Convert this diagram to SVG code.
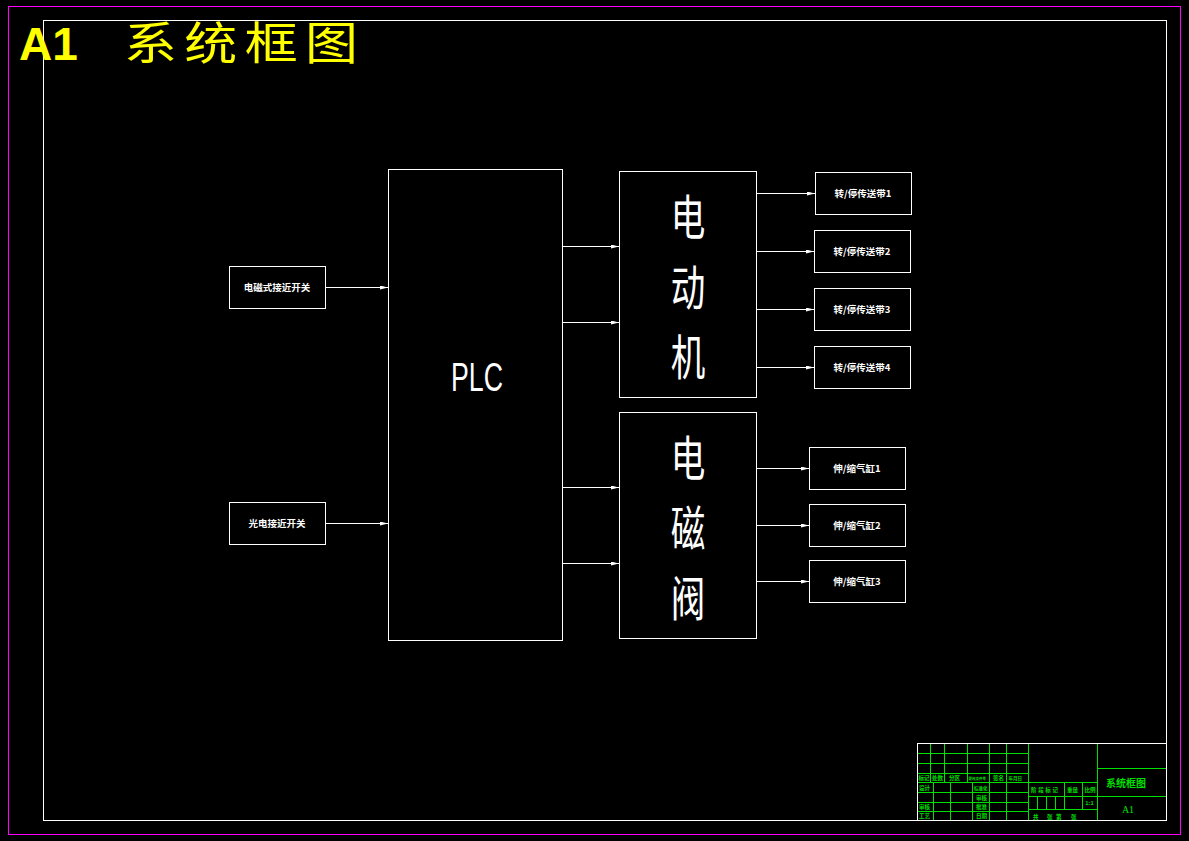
<svg xmlns="http://www.w3.org/2000/svg" width="1189" height="841" viewBox="0 0 1189 841">
<defs>
<marker id="ah" viewBox="0 0 8 4" refX="8" refY="2" markerWidth="8" markerHeight="4" markerUnits="userSpaceOnUse" orient="auto">
<path d="M0,0 L8,2 L0,4 Z" fill="#ffffff"/>
</marker>
<style>
.box{fill:none;stroke:#ffffff;stroke-width:1}
.con{stroke:#ffffff;stroke-width:1;fill:none;marker-end:url(#ah)}
.lbl{fill:#ffffff;font-family:"Noto Sans CJK SC","Liberation Sans",sans-serif;font-size:9.5px;font-weight:bold;text-anchor:middle}
.big{fill:#ffffff;font-family:"Noto Sans CJK SC",sans-serif;font-size:48px;text-anchor:middle}
.g{stroke:#00e000;stroke-width:1;fill:none}
.gt{fill:#00e000;font-family:"Noto Sans CJK SC",sans-serif;font-size:5.5px;font-weight:bold}
.gs{fill:#00e000;font-family:"Noto Sans CJK SC",sans-serif;font-size:3.5px;font-weight:bold}
.gm{fill:#00e000;font-family:"Noto Sans CJK SC",sans-serif;font-size:4.5px;font-weight:bold}
.gtm{fill:#00e000;font-family:"Noto Sans CJK SC",sans-serif;font-size:5.5px;font-weight:bold;text-anchor:middle}
</style>
</defs>
<rect x="0" y="0" width="1189" height="841" fill="#000000"/>
<rect x="8.5" y="6.5" width="1172" height="828" fill="none" stroke="#ff00ff" stroke-width="1"/>
<rect x="43.5" y="20.5" width="1123" height="800" fill="none" stroke="#ffffff" stroke-width="1"/>
<text x="19" y="60" fill="#ffff00" font-family="Liberation Sans,sans-serif" font-weight="bold" font-size="46">A1</text>
<g transform="translate(124,60) scale(1,0.85)">
<text x="0" y="0" fill="#ffff00" font-family="Noto Sans CJK SC,sans-serif" font-size="53" textLength="234" lengthAdjust="spacing">系统框图</text>
</g>

<g id="connectors">
<line class="con" x1="325" y1="287.5" x2="388" y2="287.5"/>
<line class="con" x1="325" y1="523.5" x2="388" y2="523.5"/>
<line class="con" x1="562" y1="246.5" x2="619" y2="246.5"/>
<line class="con" x1="562" y1="322.5" x2="619" y2="322.5"/>
<line class="con" x1="562" y1="487.5" x2="619" y2="487.5"/>
<line class="con" x1="562" y1="563.5" x2="619" y2="563.5"/>
<line class="con" x1="756" y1="193.5" x2="815" y2="193.5"/>
<line class="con" x1="756" y1="251.5" x2="814" y2="251.5"/>
<line class="con" x1="756" y1="309.5" x2="814" y2="309.5"/>
<line class="con" x1="756" y1="367.5" x2="814" y2="367.5"/>
<line class="con" x1="756" y1="468.5" x2="809" y2="468.5"/>
<line class="con" x1="756" y1="525.5" x2="809" y2="525.5"/>
<line class="con" x1="756" y1="581.5" x2="809" y2="581.5"/>
</g>

<g id="sensor1"><rect class="box" x="229.5" y="266.5" width="96" height="42"/><text class="lbl" x="277" y="291">电磁式接近开关</text></g>
<g id="sensor2"><rect class="box" x="229.5" y="502.5" width="96" height="42"/><text class="lbl" x="277" y="527">光电接近开关</text></g>

<g id="plc"><rect class="box" x="388.5" y="169.5" width="174" height="471"/>
<text x="477" y="391" fill="#ffffff" font-family="Liberation Sans,sans-serif" font-size="40" text-anchor="middle" textLength="52" lengthAdjust="spacingAndGlyphs">PLC</text></g>

<g id="motor"><rect class="box" x="619.5" y="171.5" width="137" height="226"/>
<g transform="translate(688,0) scale(0.72,1)">
<text class="big" x="0" y="235">电</text>
<text class="big" x="0" y="305">动</text>
<text class="big" x="0" y="375">机</text>
</g></g>

<g id="valve"><rect class="box" x="619.5" y="412.5" width="137" height="226"/>
<g transform="translate(688,0) scale(0.72,1)">
<text class="big" x="0" y="476">电</text>
<text class="big" x="0" y="546">磁</text>
<text class="big" x="0" y="616">阀</text>
</g></g>

<g id="belt1"><rect class="box" x="815.5" y="172.5" width="96" height="42"/><text class="lbl" x="863" y="197">转/停传送带1</text></g>
<g id="belt2"><rect class="box" x="814.5" y="230.5" width="96" height="42"/><text class="lbl" x="862" y="255">转/停传送带2</text></g>
<g id="belt3"><rect class="box" x="814.5" y="288.5" width="96" height="42"/><text class="lbl" x="862" y="313">转/停传送带3</text></g>
<g id="belt4"><rect class="box" x="814.5" y="346.5" width="96" height="42"/><text class="lbl" x="862" y="371">转/停传送带4</text></g>
<g id="cyl1"><rect class="box" x="809.5" y="447.5" width="96" height="42"/><text class="lbl" x="857" y="472">伸/缩气缸1</text></g>
<g id="cyl2"><rect class="box" x="809.5" y="504.5" width="96" height="42"/><text class="lbl" x="857" y="529">伸/缩气缸2</text></g>
<g id="cyl3"><rect class="box" x="809.5" y="560.5" width="96" height="42"/><text class="lbl" x="857" y="585">伸/缩气缸3</text></g>

<g id="titleblock">
<path class="g" d="M917,753.5H1028M917,763.5H1028M917,773.5H1028M917,782.5H1097M917,792.5H1028M917,802.5H1028M917,811.5H1028"/>
<path class="g" d="M930.5,743V782M944.5,743V782M967.5,743V782M989.5,743V821M1006.5,743V821M1028.5,743V821"/>
<path class="g" d="M933.5,782V821M950.5,782V821M972.5,782V821"/>
<path class="g" d="M1097.5,743V821M1097,768.5H1167M1028,796.5H1167M1028,809.5H1097M1064.5,782V809M1082.5,782V809M1037.5,796V809M1046.5,796V809M1055.5,796V809"/>
<rect x="917.5" y="743.5" width="249" height="77" fill="none" stroke="#ffffff" stroke-width="1"/>
<text class="gt" x="918.5" y="780">标记</text>
<text class="gt" x="932" y="780">处数</text>
<text class="gt" x="949" y="780">分区</text>
<text class="gs" x="968.5" y="779.5">更改文件号</text>
<text class="gt" x="993" y="780">签名</text>
<text class="gm" x="1008.5" y="780">年月日</text>
<text class="gt" x="919" y="790">设计</text>
<text class="gm" x="974" y="790">标准化</text>
<text class="gt" x="976" y="800">审核</text>
<text class="gt" x="919" y="809">审核</text>
<text class="gt" x="976" y="809">批准</text>
<text class="gt" x="919" y="818">工艺</text>
<text class="gt" x="976" y="818">日期</text>
<text class="gt" x="1031" y="792" textLength="27" lengthAdjust="spacing">阶段标记</text>
<text class="gt" x="1067" y="792">重量</text>
<text class="gt" x="1084.5" y="792">比例</text>
<text class="gtm" x="1089.5" y="805">1:1</text>
<text class="gt" x="1033" y="819">共</text>
<text class="gt" x="1047" y="819">张</text>
<text class="gt" x="1056" y="819">第</text>
<text class="gt" x="1071" y="819">张</text>
<text x="1126" y="787" fill="#00e000" font-family="Noto Sans CJK SC,sans-serif" font-size="10" font-weight="bold" text-anchor="middle">系统框图</text>
<text x="1128" y="813" fill="#00e000" font-family="Liberation Serif,serif" font-size="10" text-anchor="middle">A1</text>
</g>
</svg>
